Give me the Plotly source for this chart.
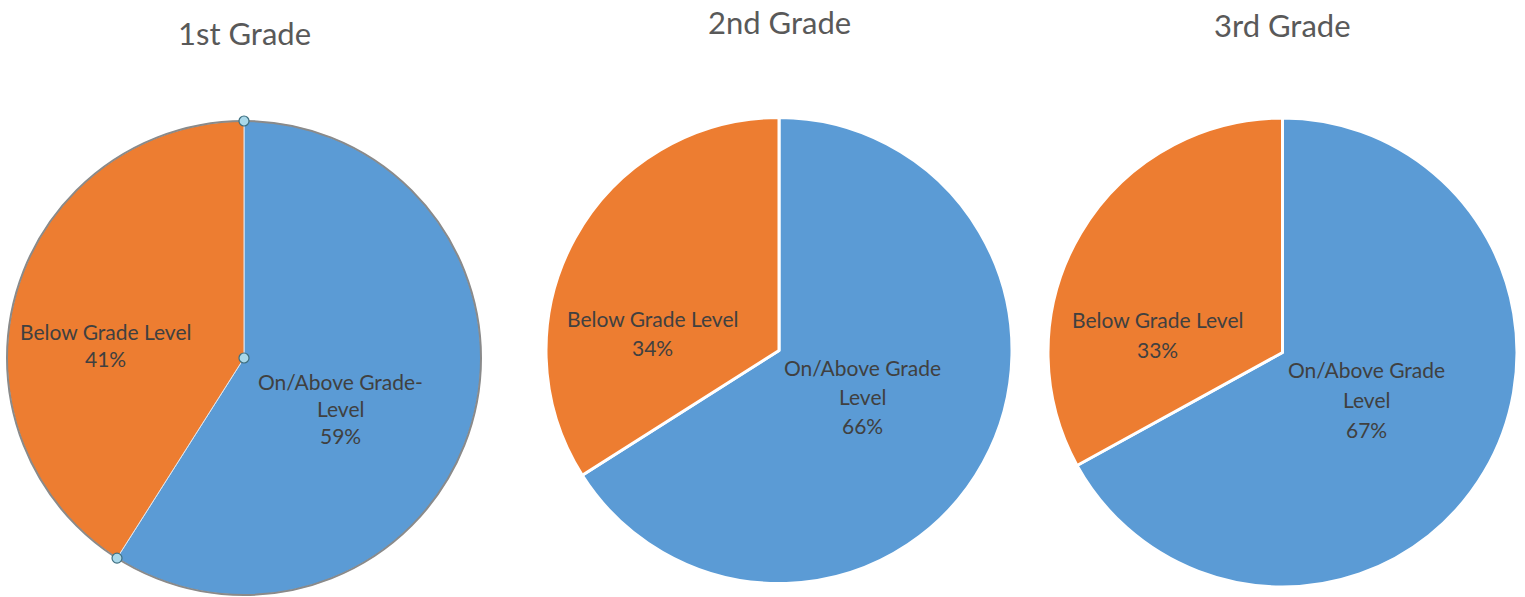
import math
import plotly.graph_objects as go

# Reading-level results by grade
grades = ["1st Grade", "2nd Grade", "3rd Grade"]
categories = ["On/Above Grade Level", "Below Grade Level"]
on_above = [59, 66, 67]
below = [41, 34, 33]
on_above_labels = [["On/Above Grade-", "Level"], ["On/Above Grade", "Level"], ["On/Above Grade", "Level"]]
below_labels = [["Below Grade Level"], ["Below Grade Level"], ["Below Grade Level"]]

BLUE = "#5B9BD5"
ORANGE = "#ED7D31"
TEXT = "#404040"
TITLE = "#595959"
FONT = "Lato"

W, H = 1525, 597

# pie boxes in pixels: (left, right, top, bottom)
boxes = [(7, 481, 121, 595), (546, 1012, 117, 584), (1048, 1517, 118, 587)]
title_y = [33, 22, 25]
# label anchor (x, first-line y) per pie, for the two slices
below_pos = [(105, 331), (652, 318), (1157, 319)]
on_pos = [(340, 381), (862, 367), (1366, 369)]
line_gap = [27, 29, 30]


def px(x):
    return x / W


def py(y):
    return 1 - y / H


fig = go.Figure()
annotations = []
shapes = []

for i, g in enumerate(grades):
    l, r, t, b = boxes[i]
    first = i == 0
    fig.add_trace(go.Pie(
        values=[on_above[i], below[i]],
        labels=categories,
        sort=False,
        direction="clockwise",
        rotation=0,
        textinfo="none",
        hoverinfo="label+percent",
        showlegend=False,
        marker=dict(colors=[BLUE, ORANGE],
                    line=dict(color="#dce6f0" if first else "white", width=1 if first else 3)),
        domain=dict(x=[px(l), px(r)], y=[py(b), py(t)]),
    ))

    cx = (l + r) / 2
    annotations.append(dict(x=px(cx), y=py(title_y[i]), xref="paper", yref="paper",
                            text=g, showarrow=False, xanchor="center", yanchor="middle",
                            font=dict(family=FONT, size=31, color=TITLE)))

    total = on_above[i] + below[i]
    for pos, lines, val in ((below_pos[i], below_labels[i], below[i]),
                            (on_pos[i], on_above_labels[i], on_above[i])):
        pct = round(100 * val / total)
        for k, txt in enumerate(lines + [f"{pct}%"]):
            annotations.append(dict(x=px(pos[0]), y=py(pos[1] + k * line_gap[i]),
                                    xref="paper", yref="paper", text=txt, showarrow=False,
                                    xanchor="center", yanchor="middle",
                                    font=dict(family=FONT, size=21, color=TEXT)))

    if first:
        # selected-chart outline and handles
        shapes.append(dict(type="circle", xref="paper", yref="paper",
                           x0=px(l), x1=px(r), y0=py(b), y1=py(t),
                           line=dict(color="#8a8a8a", width=2)))
        rad = (r - l) / 2
        cy = (t + b) / 2
        ang = 2 * math.pi * on_above[i] / total
        pts = [(cx, t), (cx, cy), (cx + rad * math.sin(ang), cy - rad * math.cos(ang))]
        for hx, hy in pts:
            shapes.append(dict(type="circle", xref="paper", yref="paper",
                               x0=px(hx - 5), x1=px(hx + 5), y0=py(hy + 5), y1=py(hy - 5),
                               fillcolor="#a9d8ea", line=dict(color="#3d6f80", width=1.2)))

fig.update_layout(
    width=W, height=H,
    margin=dict(l=0, r=0, t=0, b=0),
    paper_bgcolor="white",
    plot_bgcolor="white",
    annotations=annotations,
    shapes=shapes,
)

fig.write_html("out.html")
